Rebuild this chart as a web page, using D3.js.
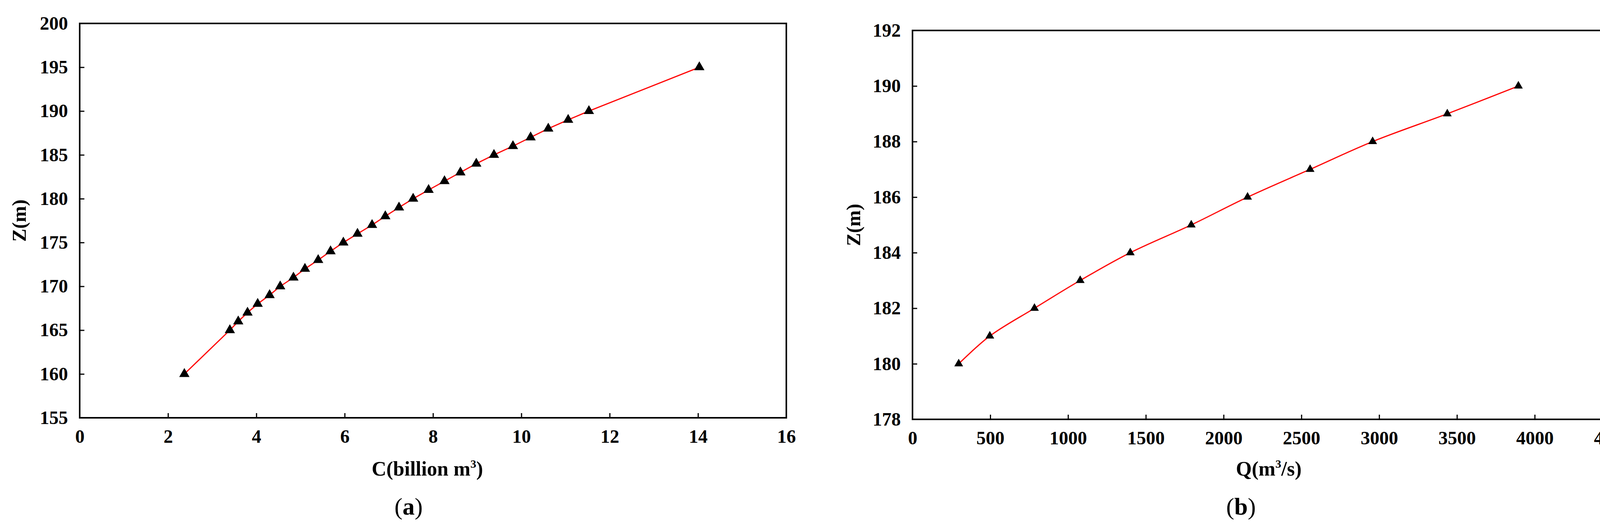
<!DOCTYPE html>
<html>
<head>
<meta charset="utf-8">
<script src="https://cdn.jsdelivr.net/npm/d3@7"></script>
<style>
  html, body { margin: 0; padding: 0; background: #fff; overflow: hidden; }
  svg { display: block; }
  text { font-family: "Liberation Serif", "Times New Roman", serif; }
</style>
</head>
<body>
<svg id="chart" width="4221" height="1342"></svg>
<script>
// panel (a): storage capacity vs water level
const capC = [2.37, 3.40, 3.59, 3.80, 4.03, 4.30, 4.54, 4.84, 5.10, 5.40, 5.68, 5.97, 6.29, 6.62,
              6.92, 7.23, 7.55, 7.90, 8.26, 8.62, 8.98, 9.38, 9.81, 10.21, 10.61, 11.06, 11.53, 14.03];
const capZ = [160, 165, 166, 167, 168, 169, 170, 171, 172, 173, 174, 175, 176, 177,
              178, 179, 180, 181, 182, 183, 184, 185, 186, 187, 188, 189, 190, 195];
const xTicksA = [0, 2, 4, 6, 8, 10, 12, 14, 16];
const yTicksA = [155, 160, 165, 170, 175, 180, 185, 190, 195, 200];

// panel (b): discharge vs tailwater level
const flowQ = [297, 497, 784, 1078, 1400, 1792, 2154, 2556, 2958, 3438, 3895];
const flowZ = [180, 181, 182, 183, 184, 185, 186, 187, 188, 189, 190];
const xTicksB = [0, 500, 1000, 1500, 2000, 2500, 3000, 3500, 4000, 4500];
const yTicksB = [178, 180, 182, 184, 186, 188, 190, 192];

const svg = d3.select("#chart");

function panel(o) {
    const x = d3.scaleLinear().domain(o.xDom).range([o.left, o.right]);
    const y = d3.scaleLinear().domain(o.yDom).range([o.bottom, o.top]);
    const g = svg.append("g");

    g.append("g")
        .attr("transform", `translate(0,${o.bottom})`)
        .call(d3.axisBottom(x).tickValues(o.xTicks).tickSize(-12).tickPadding(30).tickFormat(d3.format("d")))
        .call(a => a.select(".domain").remove());
    g.append("g")
        .attr("transform", `translate(${o.left},0)`)
        .call(d3.axisLeft(y).tickValues(o.yTicks).tickSize(-12).tickPadding(30).tickFormat(d3.format("d")))
        .call(a => a.select(".domain").remove());
    g.selectAll(".tick line").attr("stroke", "#000").attr("stroke-width", 3);
    g.selectAll(".tick text")
        .attr("font-size", 48).attr("font-weight", "bold").attr("fill", "#000")
        .attr("font-family", "Liberation Serif");

    g.append("rect")
        .attr("x", o.left).attr("y", o.top)
        .attr("width", o.right - o.left).attr("height", o.bottom - o.top)
        .attr("fill", "none").attr("stroke", "#000").attr("stroke-width", 4);

    const line = d3.line().x(d => x(d[0])).y(d => y(d[1]));
    if (o.smooth) line.curve(d3.curveCatmullRom);
    const pts = o.xs.map((v, i) => [v, o.ys[i]]);
    g.append("path").datum(pts).attr("d", line)
        .attr("fill", "none").attr("stroke", "#ff0000").attr("stroke-width", 3);

    g.selectAll(".pt").data(pts).enter().append("path")
        .attr("transform", d => `translate(${x(d[0])},${y(d[1])})`)
        .attr("d", d3.symbol(d3.symbolTriangle, o.mark))
        .attr("fill", "#000");

    g.append("text")
        .attr("transform", `translate(${o.yLabelX},${(o.top + o.bottom) / 2}) rotate(-90)`)
        .attr("text-anchor", "middle").attr("font-size", 50).attr("font-weight", "bold")
        .text("Z(m)");

    const t = g.append("text")
        .attr("x", o.titleX).attr("y", 1218)
        .attr("text-anchor", "middle").attr("font-size", 52).attr("font-weight", "bold");
    t.append("tspan").text(o.title[0]);
    t.append("tspan").attr("dy", -20).attr("font-size", 30).text("3");
    t.append("tspan").attr("dy", 20).text(o.title[1]);

    const s = g.append("text")
        .attr("x", o.labelX).attr("y", 1318)
        .attr("text-anchor", "middle").attr("font-size", 62);
    s.append("tspan").text("(");
    s.append("tspan").attr("font-weight", "bold").text(o.label);
    s.append("tspan").text(")");
}

panel({
    xs: capC, ys: capZ, xDom: [0, 16], yDom: [155, 200],
    xTicks: xTicksA, yTicks: yTicksA,
    left: 204, right: 2013, top: 60, bottom: 1070,
    yLabelX: 66, titleX: 1094, title: ["C(billion m", ")"], labelX: 1046, label: "a",
    smooth: false, mark: 300
});
panel({
    xs: flowQ, ys: flowZ, xDom: [0, 4500], yDom: [178, 192],
    xTicks: xTicksB, yTicks: yTicksB,
    left: 2336, right: 4128, top: 78, bottom: 1074,
    yLabelX: 2202, titleX: 3248, title: ["Q(m", "/s)"], labelX: 3177, label: "b",
    smooth: true, mark: 220
});
</script>
</body>
</html>
